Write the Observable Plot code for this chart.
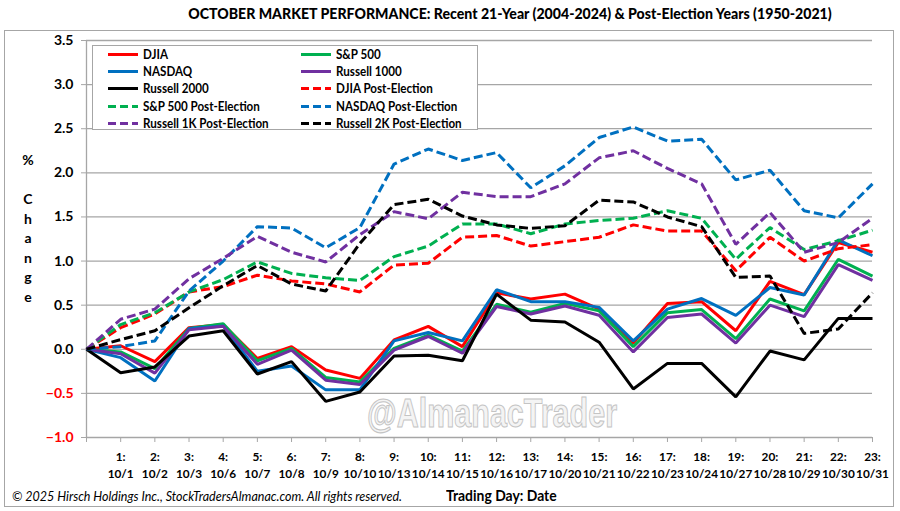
<!DOCTYPE html>
<html>
<head>
<meta charset="utf-8">
<script src="https://cdn.jsdelivr.net/npm/d3@7"></script>
<script src="https://cdn.jsdelivr.net/npm/@observablehq/plot@0.6"></script>
<style>
  html, body { margin: 0; padding: 0; background: #fff; }
  #wrap { position: relative; width: 900px; height: 511px; overflow: hidden; font-family: Lato, "Open Sans", sans-serif; color: #000; }
  #border { position: absolute; left: 4px; top: 30px; width: 890px; height: 477px; border: 1px solid #a6a6a6; box-sizing: border-box; }
  #title { position: absolute; left: 0; top: 0; }
  #wm { position: absolute; left: 0; top: 380px; }
  #chart { position: absolute; left: 0; top: 30px; }
  #ylab { position: absolute; left: 18px; top: 150px; width: 20px; text-align: center; font-weight: bold; font-size: 14px; line-height: 19.5px; }
  #legend { position: absolute; left: 92px; top: 45px; width: 386px; height: 85px; border: 1px solid #a6a6a6; background: #fff; box-sizing: border-box; }
  .li { position: absolute; height: 17px; font-weight: bold; font-size: 13.5px; line-height: 17px; white-space: nowrap; }
  .li svg { position: absolute; left: 0; top: 0; }
  .li span { position: absolute; left: 36px; top: 0; transform: scaleX(0.86); transform-origin: 0 50%; }
  #copy { position: absolute; left: 12px; top: 489px; font-style: italic; font-size: 12.5px; white-space: nowrap; }
  #xlab { position: absolute; left: 446px; top: 487px; font-weight: bold; font-size: 14.5px; white-space: nowrap; transform: scaleX(0.96); transform-origin: 0 50%; }
</style>
</head>
<body>
<div id="wrap">
  <div id="border"></div>
  <svg id="wm" width="900" height="60"><text x="367" y="47" textLength="250" lengthAdjust="spacingAndGlyphs" font-family="Liberation Sans, Arial, sans-serif" font-weight="bold" font-size="41" fill="#f4f4f4" stroke="#c4c4c4" stroke-width="1.1">@AlmanacTrader</text></svg>
  <svg id="title" width="900" height="28"><text id="ttext" x="510" y="19" text-anchor="middle" font-family="Lato, sans-serif" font-weight="900" font-size="17">OCTOBER MARKET PERFORMANCE: Recent 21-Year (2004-2024) &amp; Post-Election Years (1950-2021)</text></svg>
  <div id="chart"></div>
  <div id="ylab">%<br>&nbsp;<br>C<br>h<br>a<br>n<br>g<br>e</div>
  <div id="legend"></div>
  <div id="copy">© 2025 Hirsch Holdings Inc., StockTradersAlmanac.com. All rights reserved.</div>
  <div id="xlab">Trading Day: Date</div>
</div>
<script>
// Category labels (day 0 is the starting baseline)
const dates = ["", "10/1","10/2","10/3","10/6","10/7","10/8","10/9","10/10","10/13","10/14","10/15","10/16","10/17","10/20","10/21","10/22","10/23","10/24","10/27","10/28","10/29","10/30","10/31"];

// Recent 21-year (2004-2024)
const djia    = [0, 0.04, -0.14, 0.245, 0.28, -0.105, 0.03, -0.235, -0.33, 0.105, 0.26, 0.03, 0.64, 0.57, 0.625, 0.455, 0.07, 0.52, 0.54, 0.21, 0.77, 0.62, 1.21, 1.10];
const sp500   = [0, -0.03, -0.22, 0.235, 0.29, -0.13, 0.01, -0.32, -0.37, 0.01, 0.16, -0.02, 0.51, 0.42, 0.52, 0.435, 0.03, 0.415, 0.45, 0.12, 0.57, 0.435, 1.02, 0.83];
const nasdaq  = [0, -0.095, -0.36, 0.235, 0.265, -0.25, -0.19, -0.46, -0.46, 0.095, 0.19, 0.095, 0.675, 0.54, 0.54, 0.475, 0.095, 0.455, 0.575, 0.385, 0.70, 0.615, 1.24, 1.06];
const r1000   = [0, -0.05, -0.27, 0.22, 0.26, -0.17, -0.01, -0.35, -0.40, -0.01, 0.145, -0.045, 0.485, 0.40, 0.49, 0.385, -0.03, 0.36, 0.40, 0.07, 0.50, 0.37, 0.96, 0.78];
const r2000   = [0, -0.265, -0.20, 0.15, 0.21, -0.28, -0.14, -0.59, -0.485, -0.076, -0.068, -0.13, 0.625, 0.33, 0.31, 0.08, -0.45, -0.16, -0.16, -0.54, -0.02, -0.12, 0.35, 0.35];
// Post-election years (1950-2021)
const djiaPE   = [0, 0.245, 0.40, 0.65, 0.71, 0.84, 0.775, 0.74, 0.65, 0.955, 0.975, 1.27, 1.29, 1.17, 1.22, 1.27, 1.41, 1.34, 1.34, 0.89, 1.27, 1.00, 1.14, 1.185];
const sp500PE  = [0, 0.28, 0.415, 0.65, 0.79, 0.99, 0.86, 0.81, 0.78, 1.05, 1.17, 1.42, 1.42, 1.31, 1.42, 1.46, 1.485, 1.57, 1.485, 1.02, 1.38, 1.13, 1.23, 1.35];
const nasdaqPE = [0, 0.03, 0.095, 0.66, 1.00, 1.39, 1.375, 1.15, 1.38, 2.10, 2.27, 2.14, 2.23, 1.83, 2.08, 2.40, 2.52, 2.36, 2.38, 1.92, 2.03, 1.57, 1.49, 1.875];
const r1kPE    = [0, 0.34, 0.455, 0.80, 1.03, 1.28, 1.10, 0.99, 1.30, 1.56, 1.48, 1.78, 1.73, 1.73, 1.875, 2.17, 2.25, 2.05, 1.875, 1.19, 1.55, 1.10, 1.21, 1.485];
const r2kPE    = [0, 0.11, 0.21, 0.47, 0.72, 0.95, 0.74, 0.66, 1.20, 1.64, 1.70, 1.51, 1.41, 1.37, 1.40, 1.69, 1.67, 1.50, 1.39, 0.815, 0.83, 0.18, 0.23, 0.64];

const yTicks = [-1, -0.5, 0, 0.5, 1, 1.5, 2, 2.5, 3, 3.5];

const series = [
  {name: "DJIA", values: djia, color: "#FF0000", dash: false},
  {name: "S&P 500", values: sp500, color: "#00B050", dash: false},
  {name: "NASDAQ", values: nasdaq, color: "#0070C0", dash: false},
  {name: "Russell 1000", values: r1000, color: "#7030A0", dash: false},
  {name: "Russell 2000", values: r2000, color: "#000000", dash: false},
  {name: "DJIA Post-Election", values: djiaPE, color: "#FF0000", dash: true},
  {name: "S&P 500 Post-Election", values: sp500PE, color: "#00B050", dash: true},
  {name: "NASDAQ Post-Election", values: nasdaqPE, color: "#0070C0", dash: true},
  {name: "Russell 1K Post-Election", values: r1kPE, color: "#7030A0", dash: true},
  {name: "Russell 2K Post-Election", values: r2kPE, color: "#000000", dash: true}
];

const font = 'Lato, "Open Sans", sans-serif';
const fmt = d3.format(".1f");
const days = d3.range(0, dates.length);

// fit the title to the reference width
const tt = document.getElementById("ttext");
const natural = tt.getComputedTextLength();
if (natural > 0) tt.setAttribute("font-size", Math.min(18, 17 * 644 / natural).toFixed(2));

const lineMarks = series.map(s => Plot.line(s.values.map((v, i) => ({day: i, value: v})), {
  x: "day", y: "value", stroke: s.color, strokeWidth: 3,
  strokeDasharray: s.dash ? "9,4" : null, strokeLinejoin: "miter", strokeLinecap: "butt"
}));

const chart = Plot.plot({
  width: 900, height: 455,
  marginLeft: 86, marginRight: 28, marginTop: 10, marginBottom: 48,
  style: {fontFamily: font, background: "transparent", overflow: "visible"},
  x: {type: "linear", domain: [0, 23]},
  y: {domain: [-1, 3.5]},
  marks: [
    Plot.gridY(yTicks, {stroke: "#a6a6a6", strokeOpacity: 1, strokeWidth: 1.3}),
    Plot.ruleX([0], {stroke: "#a6a6a6", strokeWidth: 1.3}),
    Plot.axisY(yTicks.filter(d => d >= 0), {tickSize: 5, tickPadding: 8, tickFormat: fmt, stroke: "#a6a6a6", fill: "#000", fontWeight: "bold", fontSize: 14, label: null}),
    Plot.axisY(yTicks.filter(d => d < 0), {tickSize: 5, tickPadding: 8, tickFormat: fmt, stroke: "#a6a6a6", fill: "#FF0000", fontWeight: "bold", fontSize: 14, label: null}),
    Plot.axisX(days, {tickSize: 5, tickPadding: 6, stroke: "#a6a6a6", fill: "#000", fontWeight: "bold", fontSize: 11.8, lineHeight: 1.44,
      tickFormat: i => i ? `${i}:\n${dates[i]}` : "", label: null}),
    ...lineMarks
  ]
});
document.getElementById("chart").appendChild(chart);

// Legend
const legend = document.getElementById("legend");
const rowTop = [0, 17, 34, 51.5, 69];
series.forEach((s, j) => {
  const col = j % 2, row = Math.floor(j / 2);
  const el = document.createElement("div");
  el.className = "li";
  el.style.left = (col === 0 ? 14 : 207) + "px";
  el.style.top = rowTop[row] + "px";
  el.innerHTML = `<svg width="32" height="17"><line x1="1" x2="31" y1="8.5" y2="8.5" stroke="${s.color}" stroke-width="3" ${s.dash ? 'stroke-dasharray="8,4"' : ''}/></svg><span></span>`;
  el.querySelector("span").textContent = s.name;
  legend.appendChild(el);
});
</script>
</body>
</html>
